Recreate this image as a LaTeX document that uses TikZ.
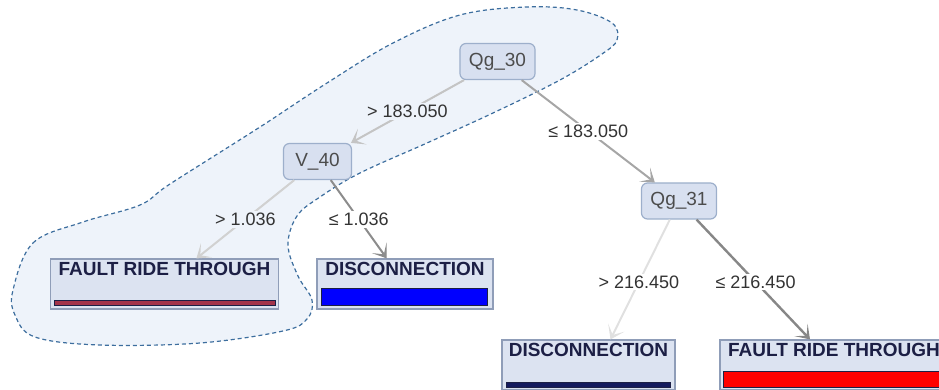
\documentclass[tikz,border=0pt]{standalone}
\usepackage{fontspec}
\setmainfont{Liberation Sans}
\usetikzlibrary{arrows.meta}
\definecolor{blobfill}{HTML}{EEF3FA}
\definecolor{blobline}{HTML}{3D6E9E}
\definecolor{nodefill}{HTML}{D8E0F0}
\definecolor{nodeline}{HTML}{9DAFCB}
\definecolor{leaffill}{HTML}{DCE3F1}
\definecolor{leafline}{HTML}{8F9DB8}
\definecolor{bardark}{HTML}{1C1F45}
\definecolor{frtdark}{HTML}{A3334A}
\definecolor{discblue}{HTML}{0000FF}
\definecolor{discnavy}{HTML}{141A5E}
\definecolor{frtred}{HTML}{FF0000}

\begin{document}
\begin{tikzpicture}[x=1pt,y=-1pt,
	split/.style={draw=nodeline, fill=nodefill, rounded corners=6pt, line width=1.2pt,
		text=black!70, font=\fontsize{19}{22}\selectfont, minimum height=36pt,
		minimum width=68pt, inner xsep=9pt},
	leaf/.style={draw=leafline, fill=leaffill, line width=1.2pt, text=bardark,
		font=\fontsize{19}{22}\selectfont\bfseries, text height=14pt, text depth=31pt,
		inner ysep=2.5pt, inner xsep=4pt},
	bar/.style={draw=bardark, line width=1pt},
	branch/.style={-{Stealth[length=13pt,width=18pt,inset=8pt]}, line width=2pt},
	elabel/.style={font=\fontsize{18}{20}\selectfont, text=black!80, fill=white, inner sep=2pt}]
	\useasboundingbox (0,0) rectangle (939,390);
	\clip (0,0) rectangle (939,390);
	% highlighted path
	\filldraw[fill=blobfill, draw=blobline, dash pattern=on 4pt off 3pt, line width=1.2pt]
		plot[smooth cycle, tension=0.6] coordinates {(13,290) (33,243) (83,222) (140,205) (170,184)
		(260,127) (327,83) (393,43) (460,15) (527,7) (577,10) (612,23) (617,40) (602,54)
		(560,80) (493,113) (427,143) (360,173) (320,197) (297,216) (288,245) (298,276)
		(312,300) (307,319) (283,331) (200,343) (100,345) (35,337) (15,315)};
	% tree
	\node[split] (q30) at (497.5,61.5) {Qg\_30};
	\node[split] (v40) at (317.5,161.5) {V\_40};
	\node[split] (q31) at (679,201) {Qg\_31};
	\node[leaf, minimum width=228pt] (frt1) at (164.5,284) {FAULT RIDE THROUGH};
	\node[leaf, minimum width=176pt] (disc1) at (405,284) {DISCONNECTION};
	\node[leaf, minimum width=173pt] (disc2) at (588.5,365) {DISCONNECTION};
	\node[leaf, minimum width=228pt] (frt2) at (834,365) {FAULT RIDE THROUGH};
	\draw[bar, fill=frtdark] ([shift={(5,-4)}]frt1.south west) rectangle ([shift={(-4,-9)}]frt1.south east);
	\draw[bar, fill=discblue] ([shift={(5,-4)}]disc1.south west) rectangle ([shift={(-6,-21)}]disc1.south east);
	\draw[bar, fill=discnavy] ([shift={(5,-3)}]disc2.south west) rectangle ([shift={(-5,-8)}]disc2.south east);
	\draw[bar, fill=frtred] ([shift={(4,-3)}]frt2.south west) rectangle ([shift={(-4,-19)}]frt2.south east);
	\draw[branch, color=black!23] (q30) -- node[elabel, fill=blobfill] {> 183.050} (v40);
	\draw[branch, color=black!35] (q30) -- node[elabel] {≤ 183.050} (q31);
	\draw[branch, color=black!18] (v40) -- node[elabel, fill=blobfill] {> 1.036} (frt1);
	\draw[branch, color=black!45] (v40) -- node[elabel] {≤ 1.036} (disc1);
	\draw[branch, color=black!12] (q31) -- node[elabel, pos=0.52] {> 216.450} ([xshift=22pt]disc2.north);
	\draw[branch, color=black!47, line width=2.4pt] (q31) -- node[elabel, pos=0.52] {≤ 216.450} ([xshift=-24pt]frt2.north);
\end{tikzpicture}
\end{document}
